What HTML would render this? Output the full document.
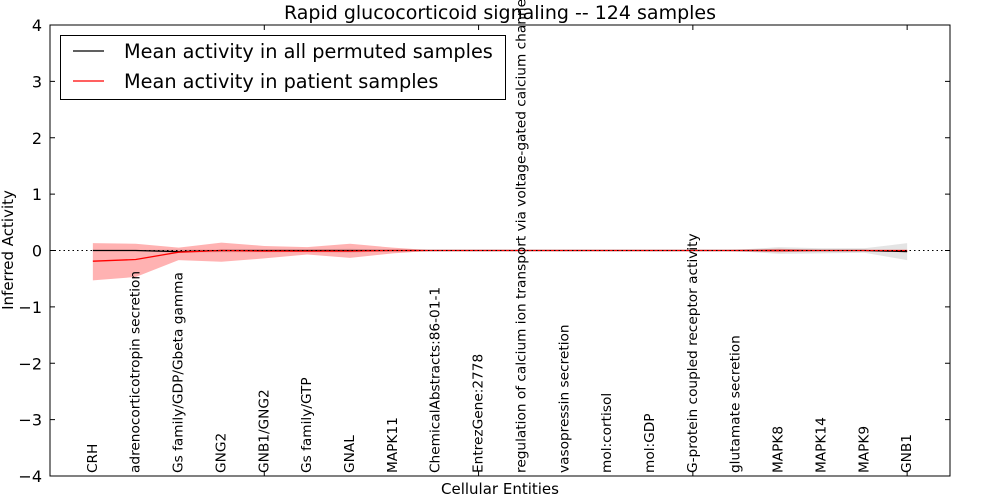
<!DOCTYPE html>
<html><head><meta charset="utf-8"><style>
body{margin:0;background:#fff}
svg{display:block;font-family:"DejaVu Sans","Liberation Sans",sans-serif}
</style></head><body>
<svg id="chart" width="1000" height="500">
<text x="500" y="19" font-size="19" text-anchor="middle">Rapid glucocorticoid signaling -- 124 samples</text>
<g id="plot"></g>
<text x="500" y="494" font-size="15" text-anchor="middle">Cellular Entities</text>
<text x="13" y="250" font-size="15" text-anchor="middle" transform="rotate(-90 13 250)">Inferred Activity</text>
<g>
<rect x="60.5" y="35.5" width="445" height="64" fill="#fff" stroke="#000"/>
<line x1="73" y1="51" x2="104" y2="51" stroke="#000" stroke-width="1.2"/>
<text x="124" y="58" font-size="19.3">Mean activity in all permuted samples</text>
<line x1="73" y1="81" x2="104" y2="81" stroke="#f00" stroke-width="1.2"/>
<text x="124" y="88" font-size="19.3">Mean activity in patient samples</text>
</g>
</svg>
<script>
const categories=["CRH","adrenocorticotropin secretion","Gs family/GDP/Gbeta gamma","GNG2","GNB1/GNG2","Gs family/GTP","GNAL","MAPK11","ChemicalAbstracts:86-01-1","EntrezGene:2778","regulation of calcium ion transport via voltage-gated calcium channel activity","vasopressin secretion","mol:cortisol","mol:GDP","G-protein coupled receptor activity","glutamate secretion","MAPK8","MAPK14","MAPK9","GNB1"];
const patientMean=[-0.19,-0.16,-0.03,0,-0.01,-0.01,-0.01,0,0,0,0,0,0,0,0,0,0,0,0,0];
const patientUpper=[0.13,0.12,0.05,0.14,0.08,0.06,0.12,0.05,0,0,0,0,0,0,0,0.01,0.03,0.01,0.01,0.01];
const patientLower=[-0.53,-0.47,-0.17,-0.2,-0.14,-0.07,-0.13,-0.05,0,0,0,0,0,0,0,-0.01,-0.03,-0.01,-0.01,-0.01];
const permMean=[0,0,-0.02,0,0,0,0,0,0,0,0,0,0,0,0,0,0,0,0,-0.02];
const permUpper=[0.01,0.01,0.02,0.02,0.02,0.02,0.03,0.01,0,0,0,0,0,0,0,0.01,0.06,0.04,0.04,0.13];
const permLower=[-0.01,-0.01,-0.04,-0.03,-0.03,-0.03,-0.04,-0.01,0,0,0,0,0,0,0,-0.01,-0.06,-0.05,-0.04,-0.17];
const yTicks=[4,3,2,1,0,-1,-2,-3,-4];
const xTicks=[-1,4,9,14,19];
const L=50,R=950,T=25,B=476;
const xs=i=>L+(i+1)*(R-L)/21;
const ys=v=>T+(4-v)*(B-T)/8;
const g=document.getElementById('plot');
const NS='http://www.w3.org/2000/svg';
function mk(tag,attrs){const e=document.createElementNS(NS,tag);for(const k in attrs)e.setAttribute(k,attrs[k]);g.appendChild(e);return e;}
function band(up,lo,fill,op,name){
 let d='M'+up.map((v,i)=>xs(i)+','+ys(v)).join('L')+'L'+lo.map((v,i)=>[xs(i),ys(v)]).reverse().map(p=>p.join(',')).join('L')+'Z';
 const e=mk('path',{d:d,fill:fill,'fill-opacity':op,stroke:'none'});
 
 
}
function line(vals,col,name){
 const e=mk('polyline',{points:vals.map((v,i)=>xs(i)+','+ys(v)).join(' '),fill:'none',stroke:col,'stroke-width':1.3});
 
 
}
band(permUpper,permLower,'#bbb',0.4,'permuted-band');
band(patientUpper,patientLower,'#f00',0.3,'patient-band');
line(permMean,'#000','permuted-mean-line');
line(patientMean,'#f00','patient-mean-line');
const z=mk('line',{x1:L,x2:R,y1:ys(0),y2:ys(0),stroke:'#000','stroke-dasharray':'1.5,3'});


const fr=mk('rect',{x:L,y:T,width:R-L,height:B-T,fill:'none',stroke:'#000','stroke-width':1});


yTicks.forEach(v=>{
 const y=ys(v);
 mk('line',{x1:L,x2:L+5,y1:y,y2:y,stroke:'#000'});
 mk('line',{x1:R-5,x2:R,y1:y,y2:y,stroke:'#000'});
 const t=mk('text',{x:L-8,y:y+6,'font-size':16,'text-anchor':'end'});
 t.textContent=(v<0?'\u2212'+(-v):v);
 
 
});
xTicks.forEach(v=>{
 const x=xs(v);
 mk('line',{x1:x,x2:x,y1:B,y2:B-5,stroke:'#000'});
 mk('line',{x1:x,x2:x,y1:T,y2:T+5,stroke:'#000'});
});
categories.forEach((c,i)=>{
 const x=xs(i)+4,y=473;
 const t=mk('text',{x:x,y:y,'font-size':13.7,transform:'rotate(-90 '+x+' '+y+')'});
 t.textContent=c;
 
 
});
</script>
</body></html>
